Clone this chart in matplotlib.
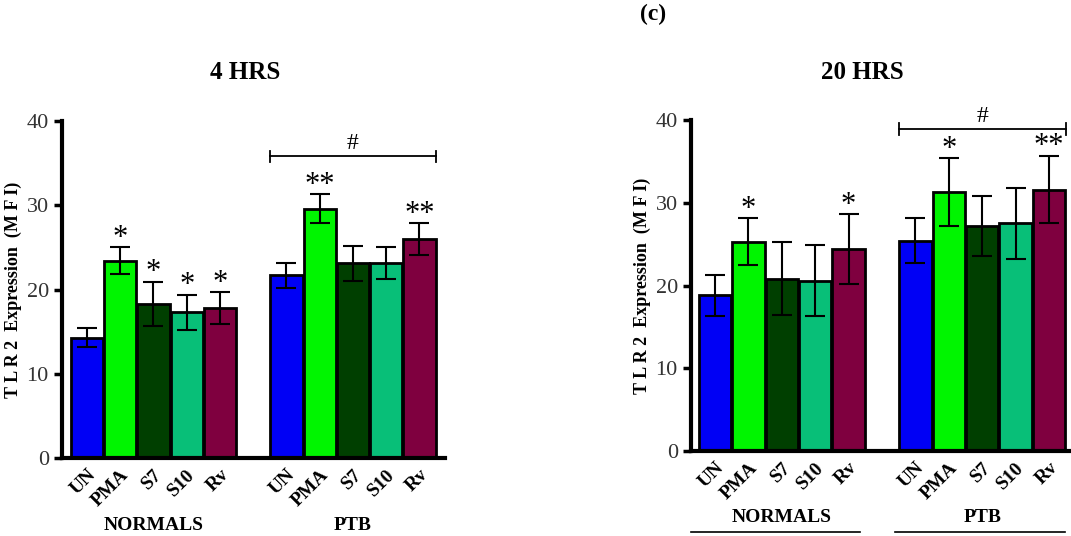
import numpy as np
import matplotlib
matplotlib.use('Agg')
import matplotlib.pyplot as plt

plt.rcParams['font.family'] = ['Liberation Serif', 'DejaVu Serif']

treatments = ['UN', 'PMA', 'S7', 'S10', 'Rv']
groups = ['NORMALS', 'PTB']
colors = ['#0000f5', '#00f500', '#003f00', '#08bf78', '#7f003f']

# 4 hours
hr4_normals = [14.3, 23.4, 18.3, 17.3, 17.8]
hr4_normals_err = [1.1, 1.6, 2.6, 2.1, 1.9]
hr4_ptb = [21.7, 29.6, 23.1, 23.2, 26.0]
hr4_ptb_err = [1.5, 1.7, 2.1, 1.9, 1.9]
hr4_stars = ['', '*', '*', '*', '*', '', '**', '', '', '**']
hr4_bracket = 35.8

# 20 hours
hr20_normals = [18.8, 25.3, 20.8, 20.6, 24.4]
hr20_normals_err = [2.5, 2.8, 4.4, 4.3, 4.2]
hr20_ptb = [25.4, 31.3, 27.2, 27.5, 31.6]
hr20_ptb_err = [2.7, 4.1, 3.6, 4.3, 4.1]
hr20_stars = ['', '*', '', '', '*', '', '*', '', '', '**']
hr20_bracket = 38.9

fig = plt.figure(figsize=(10.71, 5.36), dpi=100)
ax1 = fig.add_axes([0.0579, 0.1455, 0.3576, 0.6287])
ax2 = fig.add_axes([0.6452, 0.1586, 0.3548, 0.6175])

pos = np.array([0, 1, 2, 3, 4, 6, 7, 8, 9, 10])


def draw_panel(ax, normals, n_err, ptb, p_err, stars, bracket, title, xlim, underline):
    vals = normals + ptb
    errs = n_err + p_err
    ax.bar(pos, vals, width=0.97, color=colors * 2, edgecolor='black',
           linewidth=2.0, zorder=2)
    ax.errorbar(pos, vals, yerr=errs, fmt='none', ecolor='black',
                elinewidth=1.5, capsize=7, capthick=1.5, zorder=3)
    for x, v, e, s in zip(pos, vals, errs, stars):
        if s:
            ax.annotate(s, (x, v + e), xytext=(0, -4), textcoords='offset points',
                        ha='center', va='bottom', fontsize=22)
    # bracket over PTB
    ax.plot([5.5, 10.5], [bracket, bracket], color='black', lw=1.3, clip_on=False)
    ax.plot([5.5, 5.5], [bracket - 0.7, bracket + 0.7], color='black', lw=1.3, clip_on=False)
    ax.plot([10.5, 10.5], [bracket - 0.7, bracket + 0.7], color='black', lw=1.3, clip_on=False)
    ax.text(8, bracket + 0.3, '#', ha='center', va='bottom', fontsize=17)

    ax.set_xlim(*xlim)
    ax.set_ylim(0, 40)
    ax.set_yticks([0, 10, 20, 30, 40])
    ax.tick_params(axis='y', labelsize=16, length=6, width=2.5, colors='black',
                   labelcolor='#333333')
    ax.set_xticks(pos)
    ax.set_xticklabels(treatments * 2, rotation=45, ha='right', va='top',
                       rotation_mode='anchor', fontsize=14, fontweight='bold')
    ax.tick_params(axis='x', length=0, pad=6)
    for sp in ['top', 'right']:
        ax.spines[sp].set_visible(False)
    for sp in ['left', 'bottom']:
        ax.spines[sp].set_linewidth(3)
    ax.set_ylabel('T L R 2  Expression  (M F I)', fontsize=13, fontweight='bold')
    ax.yaxis.set_label_coords(-0.105, 0.5)

    tr = ax.get_xaxis_transform()
    ax.text(2, -0.2, groups[0], transform=tr, ha='center', va='center',
            fontsize=14, fontweight='bold')
    ax.text(8, -0.2, groups[1], transform=tr, ha='center', va='center',
            fontsize=14, fontweight='bold')
    ax.text(4.75 if underline is None else 4.4, 1.145, title, transform=tr,
            ha='center', va='center', fontsize=18, fontweight='bold')
    if underline is not None:
        for x0, x1 in underline:
            ax.plot([x0, x1], [-0.245, -0.245], transform=tr, color='black',
                    lw=1.2, clip_on=False)


draw_panel(ax1, hr4_normals, hr4_normals_err, hr4_ptb, hr4_ptb_err,
           hr4_stars, hr4_bracket, '4 HRS', (-0.75, 10.77), None)
draw_panel(ax2, hr20_normals, hr20_normals_err, hr20_ptb, hr20_ptb_err,
           hr20_stars, hr20_bracket, '20 HRS', (-0.72, 10.66),
           [(-0.72, 4.34), (5.39, 10.48)])

fig.text(653 / 1071, 1 - 14 / 536, '(c)', ha='center', va='center',
         fontsize=17, fontweight='bold')

fig.savefig('out.png', dpi=100)
